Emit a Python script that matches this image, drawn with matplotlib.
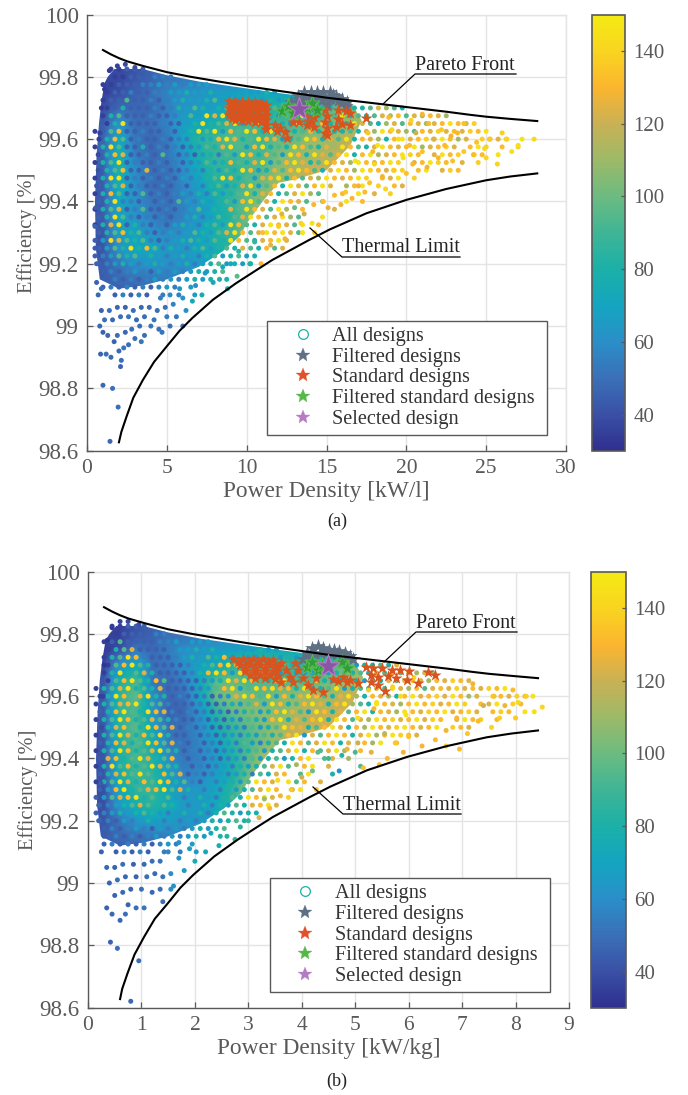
from __future__ import annotations

import matplotlib

matplotlib.use("Agg")
import matplotlib.pyplot as plt
import numpy as np
import pandas as pd
from matplotlib.colors import LinearSegmentedColormap, Normalize
from matplotlib.lines import Line2D
from matplotlib.patches import Polygon

N = np.nan
W, H = 688, 1095
GREY = "#595959"

COLOR_TICKS = [40, 60, 80, 100, 120, 140]
Y_TICKS = [98.6, 98.8, 99, 99.2, 99.4, 99.6, 99.8, 100]
Y_LABELS = ["98.6", "98.8", "99", "99.2", "99.4", "99.6", "99.8", "100"]
LEGEND_LABELS = ["All designs", "Filtered designs", "Standard designs", "Filtered standard designs", "Selected design"]

CMAP_COLORS = ["#2f2f8f", "#3a50a5", "#3a70b8", "#2a8fc8", "#14a5c0", "#1bb0a8", "#3fb596",
               "#6cbb80", "#9cba68", "#c9b155", "#fbb52f", "#f9d420", "#f4ea14"]

# colour value behind each letter of the stipple rows below
STIPPLE_VALUES = {"a": 35, "b": 45, "c": 55, "d": 66, "t": 80, "g": 94, "h": 112, "k": 124, "o": 131, "p": 138, "y": 146}
ROW_Y = [99.825, 99.80, 99.775, 99.75, 99.725, 99.70, 99.675, 99.65, 99.625, 99.60, 99.575, 99.55, 99.525, 99.50, 99.475,
         99.45, 99.425, 99.40, 99.375, 99.35, 99.325, 99.30, 99.275, 99.25, 99.225, 99.20, 99.175, 99.15, 99.125, 99.10]

# panel (a), kW/l
A_PARETO_X = [1.0, 1.5, 2.0, 2.5, 3.5, 5, 6.5, 8, 10, 12, 15, 17.5, 20, 22.5, 24, 25, 26.5, 28.2]
A_PARETO_Y = [99.886, 99.872, 99.86, 99.85, 99.835, 99.815, 99.8, 99.787, 99.77, 99.755, 99.733, 99.718, 99.703, 99.688, 99.678, 99.672, 99.665, 99.658]
A_LIMIT_X = [2.0, 2.15, 2.48, 2.9, 3.5, 4.2, 4.98, 5.8, 6.6, 7.9, 9.35, 10.5, 11.6, 13.9, 15.2, 17.5, 20, 22.5, 25, 26.5, 28.2]
A_LIMIT_Y = [98.627, 98.66, 98.71, 98.77, 98.827, 98.885, 98.934, 98.985, 99.026, 99.085, 99.138, 99.176, 99.212, 99.276, 99.31, 99.362, 99.405, 99.44, 99.468, 99.48, 99.49]

A_OUTLINE_X = [1.3, 1.8, 2.5, 3.5, 5, 7, 9, 12, 15, 16.5, 17.2, 16.5, 15, 13, 12, 11, 10, 9.6, 8.5, 7, 5, 3.5, 2, 0.8, 0.55, 0.5, 0.6, 0.75, 0.9, 1.1]
A_OUTLINE_Y = [99.80, 99.83, 99.84, 99.825, 99.805, 99.785, 99.77, 99.748, 99.728, 99.72, 99.66, 99.58, 99.5, 99.47, 99.46, 99.4, 99.33, 99.29, 99.24, 99.19, 99.15, 99.13, 99.12, 99.15, 99.25, 99.4, 99.55, 99.65, 99.72, 99.78]

A_GRID_X = [float(v) for v in range(1, 21)]
A_GRID_Y = [99.80, 99.75, 99.70, 99.65, 99.60, 99.55, 99.50, 99.45, 99.40, 99.35, 99.30, 99.25, 99.20, 99.15, 99.10]
A_GRID = [
    [N, 38, 42, 46, 52, N, N, N, N, N, N, N, N, N, N, N, N, N, N, N],
    [36, 40, 46, 50, 56, 60, 62, 66, 68, 70, 70, N, N, N, N, N, N, N, N, N],
    [40, 48, 48, 48, 55, 62, 66, 68, 72, 76, 80, 84, 86, 90, 94, 100, 108, 115, N, N],
    [44, 62, 50, 50, 56, 68, 72, 78, 88, 92, 92, 90, 94, 92, 100, 108, 112, 118, 124, 125],
    [46, 72, 52, 48, 52, 70, 84, 90, 96, 92, 90, 98, 100, 110, 108, 116, 118, 126, 126, 130],
    [46, 78, 55, 48, 52, 62, 80, 88, 90, 94, 92, 104, 108, 110, 116, 118, 126, 126, 130, 130],
    [44, 80, 60, 50, 50, 60, 74, 86, 85, 92, 96, 108, 112, 122, 120, 126, 128, 132, 132, N],
    [44, 76, 60, 50, 48, 58, 68, 80, 85, 94, 102, 112, 118, 124, 125, 130, 132, N, N, N],
    [44, 72, 62, 52, 50, 56, 64, 74, 88, 98, 110, 118, N, N, N, N, N, N, N, N],
    [44, 70, 62, 56, 50, 56, 64, 74, 84, 100, 114, N, N, N, N, N, N, N, N, N],
    [42, 68, 70, 62, 58, 62, 68, 80, 90, 104, 112, N, N, N, N, N, N, N, N, N],
    [42, 62, 72, 72, 64, 64, 70, 78, 84, 90, N, N, N, N, N, N, N, N, N, N],
    [44, 52, 60, 62, 60, 60, 66, 70, 74, N, N, N, N, N, N, N, N, N, N, N],
    [45, 48, 50, 52, 54, 56, 60, N, N, N, N, N, N, N, N, N, N, N, N, N],
    [N, 46, 48, 50, N, N, N, N, N, N, N, N, N, N, N, N, N, N, N, N],
]

A_STIPPLE = [
    "..aabbb",
    "..aabbbccc",
    ".aabbbccdcdcddd",
    ".abbcbbccddtddtddddddtd",
    ".abbgbbcbcdtddtgdtdtddtdtddtdtt",
    ".abtbbbcbctdgtdtgdyttdgtddtgttgdttgkhgt",
    ".atgbbbcbbcdgdykydtgtotdgtydttgytgtgkhogkhokh",
    ".atybbbbcbbdtytgkydgoyttdytgotgtykgthkgokhkoyokp",
    "abgobbcbbcbdtygydogyotyddtgotyttgtkhyokhgokpkokpoy",
    "atogbcbbcbcctdtoyktgyokdtgyotkgytokhtoykopkyohk.pokp.y",
    "atygbbtbcbcbcdgtkygdoytgtyogtkhyogtkyokoyhkopk.oyp.o.p",
    "btokbbcbgcbcbdtcgdyotkgdyotykgoytoyhkoypo.kyop.po.y",
    "atgybcbbcbcbcdgdtogtkydgoyktgyokhyokoyp.koypo.k.p",
    "btgobbkbcbbcdctdgtyodtkgoyogtkyohypokyp.oy.kpo",
    "atyybcbcbcbdcdtgyotgdkoytogkhyokoyp.oky.p",
    "btgkbcbbcbcbdctgdtkydgotykgoyk.hoy.p.ok",
    "atogbbgbcbcdctcgdtgytkotgkyhg..o.y.k.p",
    "btyccbcbcbgdctdtgdoygktyokg.h..y.o",
    "atgkbcgbbcbcdgdttkgyokgyh.o...k",
    "btygcbcbcbcdtcdgtgkyogkyhg..y",
    "atkybtcbcbdtdctgdyogtkyokgy.o",
    "btgotgcbcdcdgtdgkyogkyoykg.p",
    "bdykgtgcbcdtgtdgtyogtkoyk",
    "bdgtytogctdctgdtgtkgtogk",
    "bcdgtgdtdcdtdctgdtgdt",
    "bcdtdcdtdcdtcdtgdtdt",
    ".bcbcdcbdcdcdtdtg",
    ".bcbcbcdcdcdtdt.t",
    ".bcbcbcbcdc.d.",
    "..bcbcb.c.c.d",
]

A_FAN = [
    (1.44, 98.63, 48), (1.95, 98.74, 50), (1.6, 98.8, 50), (1.0, 98.81, 48), (2.1, 98.87, 46), (2.15, 98.89, 50),
    (1.5, 98.9, 48), (0.85, 98.91, 46), (1.2, 98.91, 50), (2.0, 98.92, 48), (2.3, 98.93, 52), (2.6, 98.94, 50),
    (3.0, 98.96, 50), (3.4, 98.95, 52), (3.6, 98.97, 50), (1.7, 98.95, 46), (1.3, 98.97, 48), (0.8, 99.0, 48),
    (1.0, 98.98, 46), (1.9, 98.97, 50), (2.4, 98.98, 48), (2.8, 98.99, 50), (3.3, 99.0, 50), (4.0, 99.0, 52),
    (4.5, 98.99, 50), (4.7, 98.98, 52), (5.2, 99.0, 50), (6.0, 99.0, 50), (1.1, 99.02, 50), (1.6, 99.02, 48),
    (2.1, 99.03, 50), (2.6, 99.03, 52), (3.1, 99.02, 48), (3.6, 99.03, 50), (4.2, 99.02, 52), (5.0, 99.03, 54),
    (5.6, 99.03, 52), (6.2, 99.05, 60), (0.9, 99.05, 46), (1.4, 99.05, 50), (1.9, 99.06, 48), (2.4, 99.06, 46),
    (2.9, 99.05, 50), (3.4, 99.06, 48), (3.9, 99.06, 50), (4.4, 99.05, 50), (4.9, 99.06, 52), (5.4, 99.07, 56),
    (6.6, 99.08, 72), (7.2, 99.1, 76), (6.0, 99.09, 62), (5.2, 99.1, 58), (4.6, 99.09, 54), (8.8, 99.12, 80),
    (7.9, 99.14, 74), (8.3, 99.15, 80), (9.4, 99.16, 96), (6.8, 99.13, 60), (5.8, 99.12, 62), (7.4, 99.17, 66),
    (8.5, 99.19, 72), (9.0, 99.2, 74), (10.2, 99.2, 82), (10.9, 99.2, 130), (11.5, 99.26, 126), (12.4, 99.28, 128),
    (0.7, 99.1, 48), (0.6, 99.14, 46), (0.9, 99.12, 50), (9.5, 99.24, 84), (10.5, 99.27, 88), (13.5, 99.3, 148),
    (14.1, 99.33, 146), (13.4, 99.33, 142), (12.0, 99.32, 136), (11.0, 99.3, 132),
]

A_TAIL = [
    (28.0, 99.6, 142), (27.0, 99.58, 144), (26.3, 99.6, 140), (26.6, 99.56, 146), (26.0, 99.62, 138), (25.2, 99.6, 136),
    (24.9, 99.57, 142), (25.7, 99.52, 140), (24.4, 99.59, 134), (24.2, 99.55, 132), (23.6, 99.56, 136), (23.2, 99.62, 130),
    (23.6, 99.65, 134), (22.8, 99.61, 128), (22.4, 99.58, 132), (22.2, 99.63, 136), (22.0, 99.54, 130), (21.7, 99.6, 124),
    (21.4, 99.65, 132), (21.0, 99.68, 130), (21.0, 99.56, 134), (20.6, 99.62, 120), (20.4, 99.52, 130), (20.2, 99.58, 132),
    (19.2, 99.5, 136), (18.5, 99.48, 128), (18.0, 99.52, 140), (17.7, 99.46, 134), (17.4, 99.43, 132), (17.0, 99.45, 128),
    (16.6, 99.41, 130), (16.2, 99.43, 136), (15.9, 99.39, 128), (15.5, 99.42, 132), (15.1, 99.38, 126), (14.8, 99.4, 134),
    (14.2, 99.39, 130), (13.6, 99.36, 120), (13.0, 99.38, 100), (12.2, 99.36, 124), (22.9, 99.53, 134), (21.3, 99.51, 128),
    (25.0, 99.54, 140), (20.0, 99.49, 134), (18.7, 99.44, 140), (18.2, 99.58, 146), (19.1, 99.63, 140), (19.8, 99.54, 146),
    (17.6, 99.62, 136), (18.9, 99.67, 132), (20.3, 99.66, 140), (17.9, 99.56, 130), (16.8, 99.53, 146), (19.5, 99.6, 144),
]

A_EDGE = [
    (0.6, 99.45, 42), (0.55, 99.38, 44), (0.5, 99.32, 46), (0.7, 99.55, 38), (0.8, 99.62, 36), (0.9, 99.7, 34), (1.1, 99.76, 34),
    (0.5, 99.25, 44), (0.6, 99.2, 46), (0.7, 99.5, 40), (1.4, 99.82, 34), (1.9, 99.835, 36), (2.4, 99.84, 38), (3.0, 99.83, 40),
]

A_FILTERED_X = [12.8, 13.2, 13.6, 14.0, 14.4, 14.8, 15.2, 15.6, 16.0, 16.3, 13.0, 13.5, 14.2, 14.7, 15.3, 15.9, 12.6, 13.9, 15.0, 16.2,
                13.3, 13.7, 14.1, 14.5, 14.9, 15.4, 15.8]
A_FILTERED_Y = [99.72, 99.74, 99.75, 99.75, 99.752, 99.75, 99.752, 99.74, 99.73, 99.72, 99.71, 99.72, 99.73, 99.725, 99.73, 99.715, 99.705, 99.705, 99.71, 99.705,
                99.73, 99.735, 99.74, 99.74, 99.735, 99.742, 99.725]
A_STANDARD_X = [8.9, 9.3, 9.7, 10.1, 10.5, 10.9, 8.9, 9.3, 9.7, 10.1, 10.5, 10.9, 8.9, 9.3, 9.7, 10.1, 10.5, 10.9, 9.3, 9.7, 10.1, 10.5, 10.9,
                9.1, 9.5, 9.9, 10.3, 10.7, 9.1, 9.5, 9.9, 10.3, 10.7, 9.1, 9.5, 9.9, 10.3, 10.7,
                11.2, 11.2, 11.2, 11.2, 11.2, 11.2, 11.8, 11.9, 12.1, 12.4, 12.5, 12.9, 13.3, 13.8, 14.2, 13.8, 14.2, 14.0, 14.9, 15.0, 14.9, 15.0, 14.9, 15.0, 15.7, 15.7, 15.6, 16.2, 16.5, 16.0, 16.5, 17.5]
A_STANDARD_Y = [99.722, 99.722, 99.72, 99.718, 99.718, 99.716, 99.7, 99.7, 99.7, 99.7, 99.7, 99.7, 99.678, 99.678, 99.678, 99.678, 99.678, 99.678, 99.66, 99.66, 99.658, 99.655, 99.655,
                99.711, 99.711, 99.709, 99.709, 99.709, 99.689, 99.689, 99.689, 99.689, 99.689, 99.668, 99.667, 99.667, 99.667, 99.665,
                99.71, 99.693, 99.676, 99.66, 99.645, 99.632, 99.645, 99.625, 99.635, 99.622, 99.605, 99.655, 99.655, 99.672, 99.67, 99.645, 99.64, 99.655, 99.695, 99.675, 99.655, 99.635, 99.62, 99.612, 99.695, 99.665, 99.64, 99.69, 99.685, 99.65, 99.645, 99.668]
A_GREEN_X = [12.2, 12.6, 12.9, 13.8, 14.1, 14.4]
A_GREEN_Y = [99.69, 99.705, 99.685, 99.7, 99.715, 99.695]
A_SELECTED = (13.27, 99.696)

# panel (b), kW/kg
B_PARETO_X = [0.3, 0.45, 0.6, 0.75, 1.05, 1.5, 1.95, 2.4, 3.0, 3.6, 4.5, 5.25, 6.0, 6.75, 7.2, 7.5, 7.95, 8.42]
B_PARETO_Y = A_PARETO_Y
B_LIMIT_X = [0.6, 0.64, 0.74, 0.87, 1.05, 1.25, 1.49, 1.73, 1.97, 2.36, 2.79, 3.13, 3.46, 4.15, 4.54, 5.22, 5.97, 6.72, 7.46, 7.92, 8.42]
B_LIMIT_Y = A_LIMIT_Y

B_OUTLINE_X = [0.4, 0.55, 0.75, 1.05, 1.5, 2.1, 2.7, 3.6, 4.5, 4.95, 5.15, 4.95, 4.5, 3.9, 3.6, 3.3, 3.0, 2.88, 2.55, 2.1, 1.5, 1.05, 0.6, 0.24, 0.17, 0.15, 0.18, 0.22, 0.27, 0.33]
B_OUTLINE_Y = A_OUTLINE_Y[:0] + [99.80, 99.83, 99.84, 99.825, 99.805, 99.785, 99.77, 99.748, 99.728, 99.72, 99.66, 99.58, 99.5, 99.47, 99.46, 99.4, 99.33, 99.29, 99.24, 99.19, 99.15, 99.13, 99.12, 99.15, 99.25, 99.4, 99.55, 99.65, 99.72, 99.78]

B_GRID_X = [round(0.3 * v, 1) for v in range(1, 21)]
B_GRID_Y = A_GRID_Y
B_GRID = [
    [N, 36, 42, 46, 50, N, N, N, N, N, N, N, N, N, N, N, N, N, N, N],
    [34, 40, 52, 48, 54, 60, 62, 66, 68, 70, 72, N, N, N, N, N, N, N, N, N],
    [38, 62, 72, 50, 52, 62, 68, 72, 84, 92, 96, 92, 86, 86, 92, 96, 104, 114, N, N],
    [42, 80, 92, 52, 48, 56, 72, 96, 98, 92, 96, 92, 94, 96, 100, 108, 114, 120, 126, 128],
    [44, 86, 98, 60, 48, 50, 72, 100, 108, 100, 96, 106, 108, 112, 112, 118, 122, 126, 128, 132],
    [44, 88, 92, 64, 46, 48, 62, 84, 98, 104, 108, 104, 112, 116, 118, 122, 124, 128, 132, 132],
    [42, 84, 96, 70, 50, 50, 60, 76, 88, 96, 104, 112, 118, 120, 124, 126, 128, 130, 132, 132],
    [42, 82, 94, 78, 54, 50, 58, 68, 84, 92, 104, 114, 120, 124, 128, 128, 130, N, N, N],
    [42, 80, 92, 82, 60, 52, 56, 66, 80, 96, 114, 122, N, N, N, N, N, N, N, N],
    [42, 78, 90, 86, 68, 56, 58, 66, 78, 100, 118, N, N, N, N, N, N, N, N, N],
    [40, 72, 86, 88, 72, 62, 64, 72, 86, 112, 124, N, N, N, N, N, N, N, N, N],
    [40, 64, 78, 84, 76, 66, 66, 72, 84, 100, N, N, N, N, N, N, N, N, N, N],
    [42, 52, 62, 68, 66, 62, 64, 68, 76, N, N, N, N, N, N, N, N, N, N, N],
    [44, 48, 50, 52, 54, 56, 62, N, N, N, N, N, N, N, N, N, N, N, N, N],
    [N, 46, 48, 50, N, N, N, N, N, N, N, N, N, N, N, N, N, N, N, N],
]

B_STIPPLE = [
    "..aabbb",
    "..abbbbcc",
    ".abgbbbbccdcddd",
    ".atgkbbbbcddtdtdddddtdd",
    ".atgyocbbbcdtdgtodtddttdtddtt",
    ".agoygtbbbbcdtgoyktdttdgtddtgttgdttgtk",
    ".atytgktbbbbctoyodygtotdtdddtdtgtgtkgogkhkh",
    ".agoygtogbbbbcdtykyogtoydtgotdtgtdgtkgkokhokpok",
    "atgkytgtkbbbbcdgoydgyoykotydtgydtgtkgykhogkokpkokpoy",
    "atyogkyttbcbbcbcdkyogydotkyogtkyhtokhtoykopkyohk.pokpoy",
    "atgkoytggcbbbcbbctdgkdyotgoyktoyhgtyokhoyopkoyp.oky.po",
    "btoygtyokcbcbcbcbctgdtoykgdyotkgoytokhyokpoykopk.opo.y",
    "atgyotgkgtcbbcbcbdcgtdoytkgoytyogkhyopkoykpo.kyop.o",
    "btkogtyogkbcbcbbcdcgdtgyoktgoyktohyokpyokoy.pok",
    "atgyktogytbbcbcbcdctdgtgoydkgoyotkyhoypok",
    "btoktgyogkcbcbcbdcgdctgtyogkyotk.ohy.o",
    "atgyotgkygtbcbcbcdctgdtgkytogkyh.o",
    "bkotgyktgocbcbcbcdcgdtgdtoy.gk.h",
    "atygotgykgtcbcbcdctdtgkyg.oy.k...g",
    "btkogygtogkbcbcdcdtcgtko.gy..t",
    "atgyktogyotgcbdcdtdgyok.ygo.k",
    "bdoytgkoygktdcdctdtgkyo.ky.o",
    "bdgkoytgtgdcdtdctgtyoyk.p",
    "bcdtgkgtgtdcdtctdgtkoyk",
    "bcdtdtgtdcdtdtctgtdtt",
    "bcbdcdtdcdcdcdtdtgt",
    ".bcbcdcbdcdcdtdtg",
    ".bcbcbcdcdcdtd.t",
    ".bcbcbcbcdc.d.",
    "..bcbcb.c.c.d",
]

B_FAN = [
    (0.8, 98.62, 48), (0.42, 98.81, 46), (0.55, 98.79, 50), (0.95, 98.75, 50), (0.6, 98.88, 48), (0.7, 98.9, 50),
    (0.35, 98.92, 46), (0.45, 98.9, 48), (0.75, 98.93, 46), (0.9, 98.92, 50), (1.05, 98.92, 52), (1.4, 98.94, 50),
    (0.5, 98.96, 46), (0.65, 98.97, 48), (0.8, 98.98, 46), (1.0, 98.98, 50), (1.2, 98.97, 48), (1.35, 98.98, 50),
    (1.55, 98.98, 60), (1.6, 98.99, 62), (0.4, 99.0, 46), (0.55, 99.01, 50), (0.7, 99.02, 48), (0.9, 99.02, 46),
    (1.1, 99.02, 50), (1.25, 99.03, 48), (1.4, 99.02, 52), (1.55, 99.03, 60), (1.8, 99.04, 66), (2.0, 99.07, 76),
    (0.35, 99.05, 48), (0.5, 99.05, 46), (0.65, 99.06, 50), (0.85, 99.06, 46), (1.05, 99.06, 48), (1.2, 99.07, 50),
    (1.35, 99.07, 52), (1.7, 99.08, 62), (2.2, 99.1, 72), (2.45, 99.12, 78), (1.5, 99.1, 56), (1.9, 99.11, 66),
    (2.6, 99.15, 82), (2.3, 99.16, 72), (2.85, 99.18, 84), (3.0, 99.2, 86), (3.2, 99.21, 124), (3.4, 99.24, 130),
    (2.75, 99.14, 88), (0.25, 99.1, 46), (0.3, 99.15, 44), (1.7, 99.13, 60), (3.6, 99.28, 128), (3.8, 99.3, 136),
    (3.3, 99.27, 110), (3.55, 99.33, 142), (4.0, 99.34, 120), (4.2, 99.36, 100), (4.5, 99.4, 90), (4.75, 99.41, 84),
    (5.0, 99.42, 92), (4.3, 99.42, 96), (3.9, 99.38, 112), (4.7, 99.36, 60),
]

B_TAIL = [
    (8.5, 99.565, 140), (8.35, 99.55, 144), (8.2, 99.6, 138), (8.05, 99.58, 142), (7.95, 99.62, 132), (7.8, 99.57, 128),
    (7.7, 99.53, 138), (7.6, 99.6, 134), (7.55, 99.5, 140), (7.4, 99.57, 120), (7.3, 99.52, 132), (7.2, 99.64, 128),
    (7.1, 99.48, 136), (6.9, 99.53, 130), (6.7, 99.49, 128), (6.5, 99.46, 132), (6.25, 99.44, 130), (6.0, 99.47, 134),
    (5.9, 99.42, 128), (5.75, 99.45, 136), (5.6, 99.4, 130), (5.45, 99.38, 132), (5.3, 99.42, 126), (5.15, 99.37, 134),
    (8.0, 99.53, 136), (6.95, 99.43, 132), (6.7, 99.44, 138), (5.55, 99.48, 118), (5.05, 99.45, 120), (4.85, 99.43, 128),
    (5.4, 99.58, 146), (5.7, 99.63, 140), (5.95, 99.54, 146), (5.25, 99.62, 136), (5.65, 99.67, 132), (6.1, 99.66, 140),
    (5.35, 99.56, 130), (5.05, 99.53, 146), (5.85, 99.6, 144),
]

B_EDGE = [
    (0.22, 99.4, 42), (0.24, 99.32, 44), (0.2, 99.25, 46), (0.25, 99.5, 38), (0.28, 99.6, 36), (0.3, 99.7, 32),
    (0.36, 99.78, 32), (0.45, 99.82, 34), (0.6, 99.84, 36), (0.75, 99.84, 38), (0.95, 99.83, 40), (0.2, 99.2, 46),
]

B_FILTERED_X = [4.1, 4.2, 4.3, 4.4, 4.5, 4.6, 4.7, 4.8, 4.9, 4.02, 4.15, 4.35, 4.55, 4.75, 4.95, 4.25, 4.45, 4.65, 4.85]
B_FILTERED_Y = [99.74, 99.755, 99.76, 99.755, 99.75, 99.75, 99.745, 99.74, 99.73, 99.72, 99.73, 99.74, 99.735, 99.73, 99.72, 99.735, 99.74, 99.735, 99.725]
B_STANDARD_X = [2.72, 2.90, 3.09, 3.28, 3.46, 2.84, 3.03, 3.21, 3.40, 3.56, 2.93, 3.12, 3.31, 3.49, 3.12, 3.31, 3.49, 3.62,
                2.81, 3.0, 3.18, 3.37, 2.93, 3.12, 3.31, 3.5, 3.03, 3.21, 3.4, 3.55,
                3.62, 3.71, 3.78, 3.84, 3.87, 3.93, 4.02, 4.12, 4.21, 4.40, 4.27, 4.59, 4.77, 4.90, 5.05, 4.68, 4.84,
                5.21, 5.33, 5.51, 5.68, 5.83, 6.0, 5.30, 5.43, 5.61, 5.77, 5.96, 6.17, 5.30, 5.43, 5.55, 6.37, 6.49]
B_STANDARD_Y = [99.72, 99.72, 99.72, 99.72, 99.717, 99.70, 99.70, 99.70, 99.70, 99.695, 99.68, 99.68, 99.68, 99.68, 99.658, 99.658, 99.655, 99.647,
                99.71, 99.71, 99.71, 99.71, 99.69, 99.69, 99.69, 99.69, 99.668, 99.668, 99.668, 99.665,
                99.706, 99.685, 99.663, 99.647, 99.706, 99.685, 99.658, 99.636, 99.62, 99.615, 99.658, 99.655, 99.663, 99.652, 99.642, 99.65, 99.645,
                99.695, 99.69, 99.692, 99.685, 99.685, 99.68, 99.668, 99.663, 99.665, 99.658, 99.652, 99.644, 99.647, 99.636, 99.618, 99.677, 99.669]
B_GREEN_X = [4.1, 4.2, 4.3, 4.75, 4.85, 4.38]
B_GREEN_Y = [99.695, 99.71, 99.685, 99.71, 99.69, 99.7]
B_SELECTED = (4.49, 99.697)

parula = LinearSegmentedColormap.from_list("parula_print", CMAP_COLORS, N=256)
norm = Normalize(30, 150)


def px_rect(left, top, right, bottom):
    return [left / W, 1 - bottom / H, (right - left) / W, (bottom - top) / H]


def px_line(fig, xs, ys, lw=0.9):
    fig.add_artist(Line2D([v / W for v in xs], [1 - v / H for v in ys], color="black", lw=lw, transform=fig.transFigure))


def px_text(fig, x, y, text, size, color="#222222", **kw):
    fig.text(x / W, 1 - y / H, text, fontsize=size, color=color, va="center", **kw)


def stipple_points(rows, x0, dx):
    # every letter is one design, odd rows sit half a step further right
    pts = []
    for r, row in enumerate(rows):
        for i, ch in enumerate(row):
            if ch != ".":
                pts.append((x0 + dx * i + (dx / 2 if r % 2 else 0), ROW_Y[r], STIPPLE_VALUES[ch]))
    return pts


def draw_panel(fig, rect, cbar_rect, xlim, xticks, xlabel, grid_x, grid_y, grid, outline, stipple, speckle, pareto, limit,
               filtered, standard, green, selected, legend_box):
    ax = fig.add_axes(px_rect(*rect))
    ax.set_xlim(*xlim)
    ax.set_ylim(98.6, 100)
    ax.grid(True, color="#e4e4e4", lw=1.0)
    ax.set_axisbelow(True)
    for side in ("top", "right"):
        ax.spines[side].set_visible(False)
    for side in ("left", "bottom"):
        ax.spines[side].set_color(GREY)
        ax.spines[side].set_linewidth(1.0)
    # grid lines at the far edges, the box itself is off
    ax.axhline(100, color="#e4e4e4", lw=1.0, clip_on=False, zorder=0)
    ax.axvline(xlim[1], color="#e4e4e4", lw=1.0, clip_on=False, zorder=0)

    dx = grid_x[1] - grid_x[0]
    extent = [grid_x[0] - dx / 2, grid_x[-1] + dx / 2, grid_y[-1] - 0.025, grid_y[0] + 0.025]
    filled = pd.DataFrame(grid, dtype=float).ffill(axis=1).bfill(axis=1).to_numpy()
    im = ax.imshow(filled, extent=extent, origin="upper", aspect="auto", cmap=parula, norm=norm, interpolation="bilinear", zorder=1)
    ax.set_xlim(*xlim)
    ax.set_ylim(98.6, 100)
    im.set_clip_path(Polygon(np.column_stack(outline), closed=True, transform=ax.transData))

    pts = np.array(stipple + [p for group in speckle for p in group])
    ax.scatter(pts[:, 0], pts[:, 1], c=pts[:, 2], cmap=parula, norm=norm, s=13, linewidths=0, zorder=2)

    ax.scatter(filtered[0], filtered[1], marker="*", s=120, color="#5f6f84", linewidths=0, zorder=3)
    ax.scatter(standard[0], standard[1], marker="*", s=85, color="#d9531e", linewidths=0, zorder=4)
    ax.scatter(green[0], green[1], marker="*", s=130, color="#2f9e3a", edgecolors="#5fbf4d", linewidths=0.6, zorder=5)
    ax.plot(pareto[0], pareto[1], color="black", lw=1.5, zorder=6)
    ax.plot(limit[0], limit[1], color="black", lw=1.5, zorder=6)
    ax.scatter([selected[0]], [selected[1]], marker="*", s=300, color="#8a55a5", edgecolors="#b77cc4", linewidths=0.8, zorder=7)

    ax.set_xticks(xticks)
    ax.set_yticks(Y_TICKS, Y_LABELS)
    ax.tick_params(direction="in", length=4, width=0.9, color=GREY, labelcolor=GREY, labelsize=15.5, pad=6)
    ax.tick_params(axis="y", labelsize=16.5, pad=6)
    ax.set_xlabel(xlabel, fontsize=16.8, color=GREY, labelpad=2)
    ax.set_ylabel("Efficiency [%]", fontsize=14.7, color=GREY, labelpad=1)

    handles = [
        Line2D([], [], ls="", marker="o", ms=7, mfc="none", mec="#1bb0a8", mew=0.9),
        Line2D([], [], ls="", marker="*", ms=10, mfc="#5f6f84", mec="#5f6f84", mew=0.2),
        Line2D([], [], ls="", marker="*", ms=10, mfc="#e0532a", mec="#e0532a", mew=0.2),
        Line2D([], [], ls="", marker="*", ms=10, mfc="#55b848", mec="#55b848", mew=0.2),
        Line2D([], [], ls="", marker="*", ms=10, mfc="#b57cc4", mec="#b57cc4", mew=0.2),
    ]
    left, top, right, bottom = legend_box
    box = (left / W, 1 - bottom / H, (right - left) / W, (bottom - top) / H)
    leg = ax.legend(handles, LEGEND_LABELS, loc="center", bbox_to_anchor=box, bbox_transform=fig.transFigure, mode="expand",
                    fontsize=14.6, labelspacing=0.08, borderaxespad=0, borderpad=0.3, handletextpad=0.0, handlelength=2.9,
                    frameon=True, fancybox=False, framealpha=1, edgecolor=GREY, labelcolor="#333333")
    leg.get_frame().set_linewidth(1.0)
    leg.set_zorder(8)

    cax = fig.add_axes(px_rect(*cbar_rect))
    cb = fig.colorbar(plt.cm.ScalarMappable(norm=norm, cmap=parula), cax=cax)
    cb.set_ticks(COLOR_TICKS)
    cb.ax.tick_params(direction="in", length=3, width=0.9, color=GREY, labelcolor=GREY, labelsize=15, pad=6)
    cb.outline.set_edgecolor(GREY)
    cb.outline.set_linewidth(1.2)
    return ax


def main() -> int:
    plt.rcParams["font.family"] = ["Liberation Serif", "DejaVu Serif"]
    fig = plt.figure(figsize=(W / 100, H / 100), dpi=100, facecolor="white")

    draw_panel(fig, (87, 14.5, 566, 450.7), (592, 14.5, 625, 451), (0, 30), [0, 5, 10, 15, 20, 25, 30], "Power Density [kW/l]",
               A_GRID_X, A_GRID_Y, A_GRID, (A_OUTLINE_X, A_OUTLINE_Y), stipple_points(A_STIPPLE, 0.5, 0.5), [A_FAN, A_TAIL, A_EDGE],
               (A_PARETO_X, A_PARETO_Y), (A_LIMIT_X, A_LIMIT_Y),
               (A_FILTERED_X, A_FILTERED_Y), (A_STANDARD_X, A_STANDARD_Y), (A_GREEN_X, A_GREEN_Y), A_SELECTED,
               (267.3, 321.7, 547, 434))
    draw_panel(fig, (88, 571.7, 569, 1007.5), (591, 571.7, 626, 1008), (0, 9), list(range(10)), "Power Density [kW/kg]",
               B_GRID_X, B_GRID_Y, B_GRID, (B_OUTLINE_X, B_OUTLINE_Y), stipple_points(B_STIPPLE, 0.15, 0.15), [B_FAN, B_TAIL, B_EDGE],
               (B_PARETO_X, B_PARETO_Y), (B_LIMIT_X, B_LIMIT_Y),
               (B_FILTERED_X, B_FILTERED_Y), (B_STANDARD_X, B_STANDARD_Y), (B_GREEN_X, B_GREEN_Y), B_SELECTED,
               (270, 879, 550, 991))

    px_text(fig, 415, 66, "Pareto Front", 14.5)
    px_line(fig, [383, 415, 516], [104, 74, 74])
    px_text(fig, 342, 248, "Thermal Limit", 14.5)
    px_line(fig, [310, 342, 460], [228, 257, 257])
    px_text(fig, 416, 624, "Pareto Front", 14.5)
    px_line(fig, [384, 416, 517], [662, 632, 632])
    px_text(fig, 343, 805, "Thermal Limit", 14.5)
    px_line(fig, [313, 343, 461], [787, 814, 814])

    px_text(fig, 337, 521, "(a)", 13, ha="center")
    px_text(fig, 337, 1081, "(b)", 13, ha="center")

    fig.savefig("out.png", dpi=100)
    plt.close(fig)
    return 0


if __name__ == "__main__":
    raise SystemExit(main())
